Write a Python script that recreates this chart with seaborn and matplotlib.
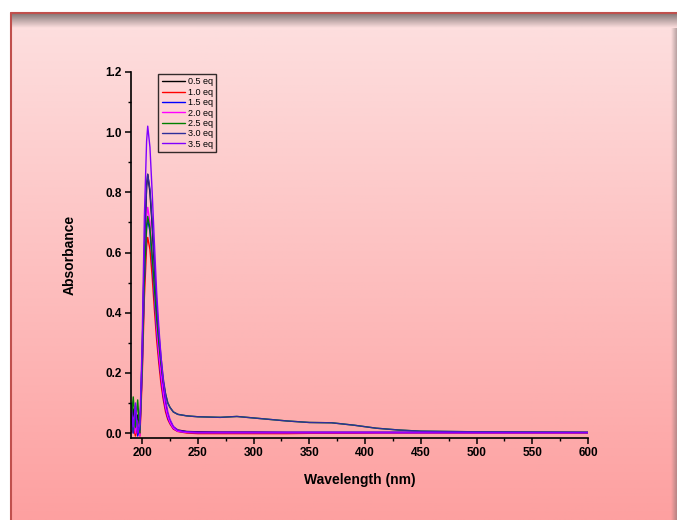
import numpy as np
import pandas as pd
import matplotlib
matplotlib.use("Agg")
import matplotlib.pyplot as plt
from matplotlib.lines import Line2D
from matplotlib.ticker import MultipleLocator
import seaborn as sns

# UV-vis titration spectra
wavelength = [190, 192, 194, 196, 198, 200, 202, 204, 205, 207, 209, 211, 213, 215, 217, 219,
              221, 223, 225, 228, 232, 240, 250, 270, 285, 300, 330, 350, 370, 390, 410, 430,
              450, 500, 550, 600]

eq_05 = [0.02, 0.08, 0.01, 0.06, 0.0, 0.26, 0.60, 0.82, 0.86, 0.80, 0.69, 0.54, 0.40, 0.30, 0.22, 0.15,
         0.10, 0.06, 0.04, 0.02, 0.01, 0.005, 0.004, 0.003, 0.003, 0.003, 0.002, 0.002, 0.002, 0.002, 0.002, 0.002,
         0.002, 0.002, 0.002, 0.002]
eq_10 = [0.0, 0.02, -0.01, 0.03, -0.01, 0.18, 0.45, 0.62, 0.65, 0.61, 0.52, 0.41, 0.31, 0.23, 0.16, 0.11,
         0.07, 0.045, 0.03, 0.013, 0.005, 0.0, -0.002, -0.002, -0.002, -0.002, -0.002, -0.001, -0.001, -0.001, 0.0, 0.0,
         0.0, 0.0, 0.0, 0.0]
eq_15 = [0.10, 0.0, 0.09, -0.01, 0.02, 0.20, 0.50, 0.68, 0.71, 0.67, 0.57, 0.45, 0.34, 0.25, 0.18, 0.12,
         0.08, 0.05, 0.033, 0.015, 0.006, 0.002, 0.001, 0.001, 0.001, 0.001, 0.001, 0.001, 0.001, 0.001, 0.001, 0.001,
         0.001, 0.001, 0.001, 0.001]
eq_20 = [0.01, 0.05, 0.0, 0.04, -0.01, 0.21, 0.53, 0.72, 0.75, 0.70, 0.60, 0.47, 0.35, 0.26, 0.19, 0.13,
         0.085, 0.055, 0.035, 0.016, 0.006, 0.002, 0.001, 0.001, 0.001, 0.001, 0.001, 0.001, 0.001, 0.001, 0.001, 0.001,
         0.001, 0.001, 0.001, 0.001]
eq_25 = [0.03, 0.12, 0.02, 0.11, 0.0, 0.22, 0.52, 0.69, 0.72, 0.68, 0.59, 0.48, 0.38, 0.30, 0.23, 0.17,
         0.13, 0.10, 0.085, 0.07, 0.062, 0.057, 0.054, 0.052, 0.055, 0.05, 0.04, 0.035, 0.034, 0.026, 0.016, 0.01,
         0.006, 0.004, 0.003, 0.002]
eq_30 = [0.05, 0.0, 0.07, 0.02, 0.01, 0.26, 0.61, 0.82, 0.86, 0.81, 0.70, 0.56, 0.43, 0.33, 0.25, 0.18,
         0.13, 0.10, 0.085, 0.07, 0.062, 0.057, 0.054, 0.052, 0.055, 0.05, 0.04, 0.035, 0.034, 0.026, 0.016, 0.01,
         0.006, 0.004, 0.003, 0.002]
eq_35 = [0.09, 0.02, 0.10, 0.0, 0.03, 0.30, 0.72, 0.97, 1.02, 0.95, 0.80, 0.63, 0.47, 0.35, 0.25, 0.17,
         0.11, 0.07, 0.045, 0.022, 0.009, 0.004, 0.003, 0.003, 0.003, 0.003, 0.003, 0.003, 0.003, 0.003, 0.003, 0.003,
         0.003, 0.002, 0.002, 0.002]

labels = ["0.5 eq", "1.0 eq", "1.5 eq", "2.0 eq", "2.5 eq", "3.0 eq", "3.5 eq"]
series = [eq_05, eq_10, eq_15, eq_20, eq_25, eq_30, eq_35]
colors = ["black", "red", "blue", "#FF00FF", "#008000", "#2E2E9A", "#8000FF"]

rows = []
for lab, vals in zip(labels, series):
    for w, a in zip(wavelength, vals):
        rows.append({"wl": w, "abs": a, "eq": lab})
df = pd.DataFrame(rows)

sns.set_style("ticks")
plt.rcParams["font.family"] = ["Liberation Sans", "DejaVu Sans"]
plt.rcParams["text.color"] = "black"
plt.rcParams["axes.labelcolor"] = "black"

W, H = 677, 520
fig = plt.figure(figsize=(W / 100, H / 100), dpi=100)

# pink gradient background panel
bg = fig.add_axes([10 / W, 0, 1 - 10 / W, 507 / H])
bg.axis("off")
t = np.linspace(0, 1, 256).reshape(-1, 1)
top = np.array([253, 224, 224]) / 255
bot = np.array([253, 160, 160]) / 255
grad = top + t[..., None] * (bot - top)
grad = np.repeat(grad, 2, axis=1)
bg.imshow(grad, aspect="auto", extent=[0, 1, 0, 1])
bg.set_xlim(0, 1)
bg.set_ylim(0, 1)

# top shadow
sh = fig.add_axes([11 / W, (507 - 15) / H, 1 - 11 / W, 15 / H])
sh.axis("off")
a = np.linspace(0.85, 0, 64).reshape(-1, 1)
shade = np.zeros((64, 2, 4))
shade[..., 0] = 0.42
shade[..., 1] = 0.38
shade[..., 2] = 0.38
shade[..., 3] = np.repeat(a, 2, axis=1)
sh.imshow(shade, aspect="auto", extent=[0, 1, 0, 1])

# right shadow
rs = fig.add_axes([(W - 6) / W, 0, 6 / W, 492 / H])
rs.axis("off")
shade2 = np.zeros((2, 64, 4))
shade2[..., 0] = 0.45
shade2[..., 1] = 0.4
shade2[..., 2] = 0.4
shade2[..., 3] = np.linspace(0, 0.5, 64)
rs.imshow(shade2, aspect="auto", extent=[0, 1, 0, 1])

# red frame lines
fig.add_artist(Line2D([10.5 / W, 10.5 / W], [0, 507.5 / H], color="#C0504D", lw=1.5))
fig.add_artist(Line2D([10.5 / W, 1], [507.5 / H, 507.5 / H], color="#C0504D", lw=1.5))

ax = fig.add_axes([131 / W, 82 / H, 457 / W, 366 / H])
ax.patch.set_alpha(0)
sns.lineplot(data=df, x="wl", y="abs", hue="eq", palette=colors, ax=ax,
             linewidth=1.0, estimator=None, sort=False)

ax.set_xlim(190, 600)
ax.set_ylim(-0.0166, 1.2)
ax.xaxis.set_major_locator(MultipleLocator(50))
ax.xaxis.set_minor_locator(MultipleLocator(25))
ax.yaxis.set_major_locator(MultipleLocator(0.2))
ax.yaxis.set_minor_locator(MultipleLocator(0.1))
ax.set_xticks(np.arange(200, 601, 50))
ax.yaxis.set_major_formatter(plt.FormatStrFormatter("%.1f"))
for s in ["top", "right"]:
    ax.spines[s].set_visible(False)
for s in ["left", "bottom"]:
    ax.spines[s].set_linewidth(1.2)
    ax.spines[s].set_color("black")
ax.tick_params(which="major", direction="out", length=4.5, width=1.1, pad=2,
               labelsize=8.5, colors="black")
ax.tick_params(which="minor", direction="out", length=2.5, width=1.0, colors="black")
for lbl in ax.get_xticklabels() + ax.get_yticklabels():
    lbl.set_fontweight("bold")

ax.set_xlabel("Wavelength (nm)", fontsize=10, fontweight="bold", labelpad=10, color="black")
ax.set_ylabel("Absorbance", fontsize=10, fontweight="bold", labelpad=21, color="black")

leg = ax.legend(loc="upper left", bbox_to_anchor=(0.059, 0.995), borderaxespad=0,
                fontsize=6.5, frameon=True, fancybox=False, shadow=False,
                handlelength=2.6, handletextpad=0.3, labelspacing=0.15,
                borderpad=0.4)
leg.get_frame().set_edgecolor("black")
leg.get_frame().set_linewidth(1.0)
leg.get_frame().set_facecolor("none")
for ln in leg.get_lines():
    ln.set_linewidth(1.0)
for txt in leg.get_texts():
    txt.set_color("black")

fig.savefig("out.png", dpi=100)
